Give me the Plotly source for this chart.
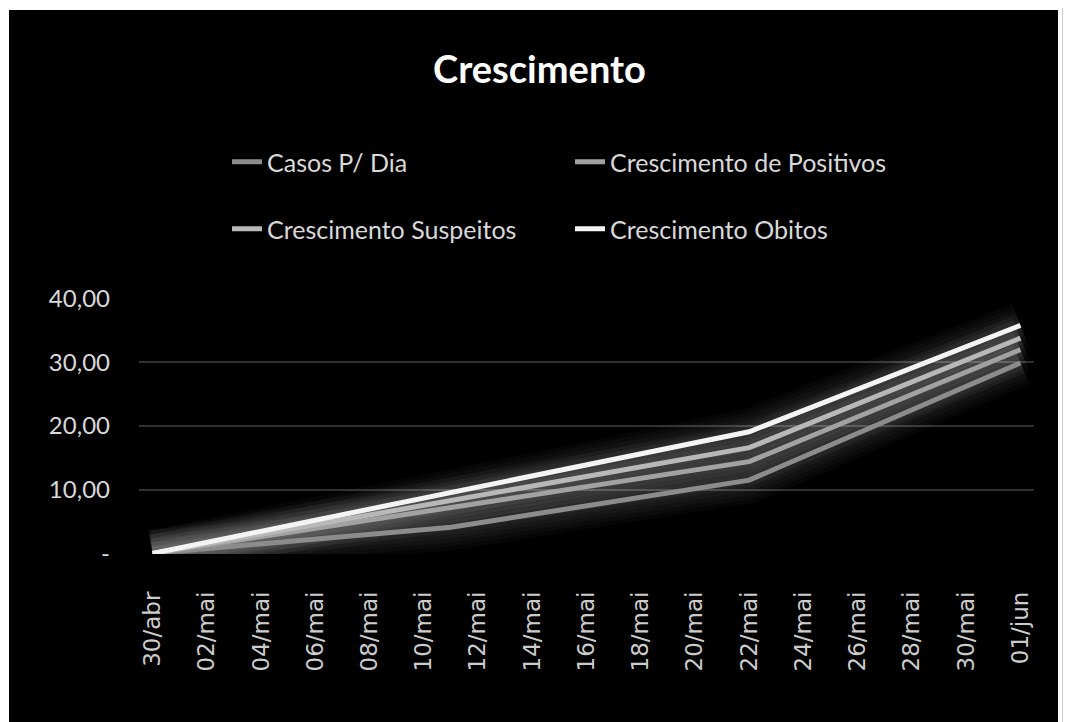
import plotly.graph_objects as go
import pandas as pd

# ---- data ----
dates = ["2020-04-30", "2020-05-11", "2020-05-22", "2020-06-01"]
casos_dia = [0, 4.1, 11.5, 29.9]
cresc_positivos = [0, 7.2, 14.4, 32.0]
cresc_suspeitos = [0, 8.3, 16.6, 33.8]
cresc_obitos = [0, 9.5, 19.1, 35.8]

series_names = ["Casos P/ Dia", "Crescimento de Positivos", "Crescimento Suspeitos", "Crescimento Obitos"]
series_values = [casos_dia, cresc_positivos, cresc_suspeitos, cresc_obitos]
series_colors = ["#8c8c8c", "#a2a2a2", "#b8b8b8", "#f4f4f4"]
series_legend = ["legend", "legend", "legend2", "legend2"]

tick_labels = ["30/abr", "02/mai", "04/mai", "06/mai", "08/mai", "10/mai", "12/mai", "14/mai",
               "16/mai", "18/mai", "20/mai", "22/mai", "24/mai", "26/mai", "28/mai", "30/mai", "01/jun"]
tick_dates = pd.date_range("2020-04-30", "2020-06-01", freq="2D")

y_tickvals = [0, 10, 20, 30, 40]
y_ticktext = ["-", "10,00", "20,00", "30,00", "40,00"]

# page has an 8px body margin; figure positions below are in figure pixels
OFF = 8
W, H = 1071 - OFF, 722 - OFF
Y0, Y1 = -0.1, 40.1
ML = 139 - OFF
PLOT_RIGHT = 1034 - OFF
PX_PER_UNIT = 254 / 40
PLOT_TOP = (299 - OFF) - (Y1 - 40) * PX_PER_UNIT
PLOT_BOTTOM = (553 - OFF) + (0 - Y0) * PX_PER_UNIT
MT = round(PLOT_TOP)
MB = round(H - PLOT_BOTTOM)
MR = W - PLOT_RIGHT
PW, PH = W - ML - MR, H - MT - MB


def px_x(p):
    return (p - OFF - ML) / PW


def px_y(p):
    return (H - MB - (p - OFF)) / PH


fig = go.Figure()

# soft glow layers
for vals in series_values:
    for w in [46, 38, 30, 22, 14]:
        fig.add_trace(go.Scatter(x=dates, y=vals, mode="lines",
                                 line=dict(color="white", width=w), opacity=0.022,
                                 showlegend=False, hoverinfo="skip"))

for name, vals, col, lg in zip(series_names, series_values, series_colors, series_legend):
    fig.add_trace(go.Scatter(x=dates, y=vals, mode="lines", name=name,
                             line=dict(color=col, width=5), legend=lg))

font_main = "Lato, 'Open Sans', sans-serif"
legend_common = dict(orientation="h", xref="container", xanchor="left",
                     yref="container", yanchor="middle",
                     bgcolor="rgba(0,0,0,0)", entrywidth=298, entrywidthmode="pixels",
                     font=dict(family=font_main, size=25, color="#d9d9d9"))

fig.update_layout(
    width=W, height=H,
    margin=dict(l=ML, r=MR, t=MT, b=MB),
    paper_bgcolor="#ebebeb",
    plot_bgcolor="black",
    title=dict(text="<b>Crescimento</b>", x=0.5, xanchor="center",
               y=1 - (70 - OFF) / H, yanchor="middle", yref="container",
               font=dict(family=font_main, size=38, color="white")),
    legend=dict(x=(227 - OFF) / W, y=1 - (162 - OFF) / H, **legend_common),
    legend2=dict(x=(227 - OFF) / W, y=1 - (229 - OFF) / H, **legend_common),
    xaxis=dict(type="date", range=["2020-04-29 12:00", "2020-06-01 12:00"],
               tickvals=list(tick_dates), ticktext=tick_labels, tickangle=-90,
               showgrid=False, zeroline=False, showline=False, ticks="",
               ticklabelstandoff=32,
               tickfont=dict(family="DejaVu Sans", size=23, color="#cccccc")),
    yaxis=dict(range=[Y0, Y1], tickvals=y_tickvals, ticktext=y_ticktext,
               showgrid=True, gridcolor="#303030", gridwidth=2, zeroline=False,
               showline=False, ticks="", ticklabelstandoff=28,
               tickfont=dict(family=font_main, size=24, color="#d9d9d9")),
    shapes=[
        dict(type="rect", xref="paper", yref="paper", layer="below",
             x0=px_x(-20), x1=px_x(1063), y0=px_y(740), y1=px_y(-20),
             fillcolor="white", line=dict(color="#9a9a9a", width=1)),
        dict(type="rect", xref="paper", yref="paper", layer="below",
             x0=px_x(9), x1=px_x(1058), y0=px_y(740), y1=px_y(10),
             fillcolor="black", line=dict(width=0)),
    ],
    showlegend=True,
)

fig.write_html("out.html")
